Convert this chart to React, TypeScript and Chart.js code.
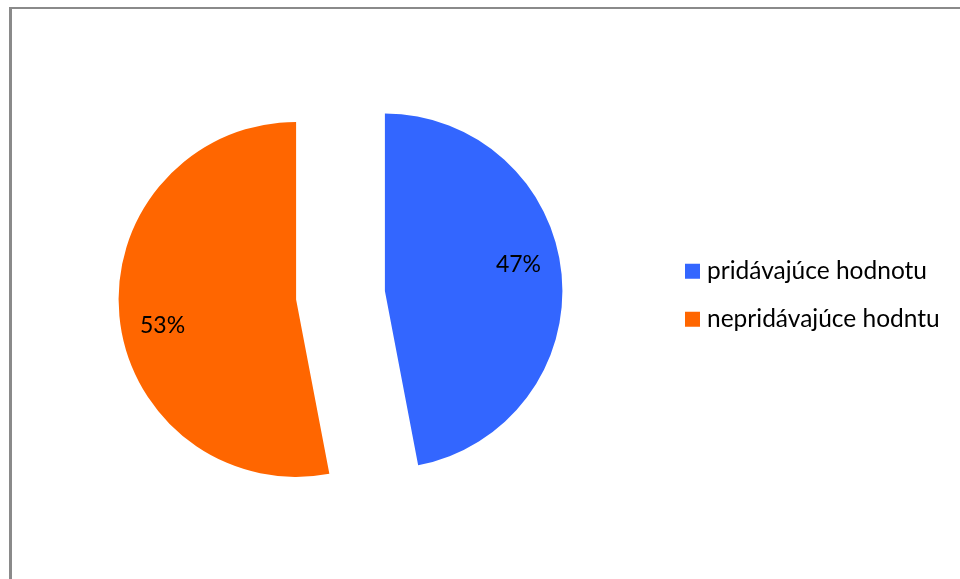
import React, { useEffect, useRef } from 'react';
import { Chart, registerables, DoughnutController } from 'chart.js';

Chart.register(...registerables);

// ---- data ----
const categories: string[] = ['pridávajúce hodnotu', 'nepridávajúce hodntu'];
const values: number[] = [47, 53];
const valueLabels: string[] = ['47%', '53%'];
const colors: string[] = ['#3366FF', '#FF6600'];

// ---- style constants ----
const FONT = 'Lato, "Open Sans", "DejaVu Sans", sans-serif';
const LEGEND_FONT_SIZE = 24.5;
const LEGEND_PAD = 23.5;
const LEGEND_BOX = 4.5;
const LEGEND_BOX_STROKE = 10.5;
const LEGEND_LEFT = 666.75;
const EXPLODE = 44.6;
const LABEL_R = 0.767;
const LABEL_ROT = (5.8 * Math.PI) / 180;

const explodePlugin = {
  id: 'explodeSlices',
  afterUpdate(chart: any) {
    const meta = chart.getDatasetMeta(0);
    meta.data.forEach((arc: any) => {
      const mid = (arc.startAngle + arc.endAngle) / 2;
      arc.x += Math.cos(mid) * EXPLODE;
      arc.y += Math.sin(mid) * EXPLODE;
    });
  },
};

const labelPlugin = {
  id: 'sliceLabels',
  afterDatasetsDraw(chart: any) {
    const ctx = chart.ctx;
    const meta = chart.getDatasetMeta(0);
    ctx.save();
    ctx.font = `23px ${FONT}`;
    ctx.fillStyle = '#000';
    ctx.textAlign = 'center';
    ctx.textBaseline = 'middle';
    meta.data.forEach((arc: any, i: number) => {
      const a = (arc.startAngle + arc.endAngle) / 2 - LABEL_ROT;
      const r = arc.outerRadius * LABEL_R;
      ctx.fillText(valueLabels[i], arc.x + Math.cos(a) * r, arc.y + Math.sin(a) * r);
    });
    ctx.restore();
  },
};

export default function App() {
  const canvasRef = useRef<HTMLCanvasElement | null>(null);

  useEffect(() => {
    const canvas = canvasRef.current;
    if (!canvas) return;
    const baseGen = (DoughnutController as any).overrides.plugins.legend.labels.generateLabels;

    // measure legend text so the legend's left edge lands where it should
    const mctx = document.createElement('canvas').getContext('2d') as CanvasRenderingContext2D;
    mctx.font = `${LEGEND_FONT_SIZE}px ${FONT}`;
    const textW = Math.max(...categories.map((c) => mctx.measureText(c).width));
    const legendW = LEGEND_PAD + LEGEND_BOX + LEGEND_FONT_SIZE / 2 + textW + 10;
    const padRight = Math.max(0, 960 - LEGEND_LEFT - legendW);

    const chart = new Chart(canvas, {
      type: 'pie',
      data: {
        labels: categories,
        datasets: [
          {
            data: values,
            backgroundColor: colors,
            borderWidth: 0,
          },
        ],
      },
      options: {
        responsive: false,
        animation: false,
        devicePixelRatio: 1,
        layout: {
          padding: { left: 14.25, right: padRight, top: 117.7, bottom: 106.3 },
        },
        plugins: {
          tooltip: { enabled: false },
          legend: {
            position: 'right',
            align: 'center',
            labels: {
              boxWidth: LEGEND_BOX,
              boxHeight: LEGEND_BOX,
              padding: LEGEND_PAD,
              color: '#000',
              font: { family: FONT, size: LEGEND_FONT_SIZE },
              generateLabels: (c: any) =>
                baseGen(c).map((it: any) => ({
                  ...it,
                  lineWidth: LEGEND_BOX_STROKE,
                  strokeStyle: it.fillStyle,
                  lineJoin: 'miter',
                })),
            },
          },
        },
      } as any,
      plugins: [explodePlugin, labelPlugin],
    });
    return () => chart.destroy();
  }, []);

  return (
    <div
      style={{
        position: 'fixed',
        left: 0,
        top: 0,
        width: 960,
        height: 579,
        overflow: 'hidden',
        background: '#fff',
      }}
    >
      <div
        style={{
          position: 'absolute',
          left: 9,
          top: 7,
          width: 1200,
          height: 800,
          borderLeft: '3px solid #8a8a8a',
          borderTop: '2px solid #8a8a8a',
          boxSizing: 'border-box',
        }}
      />
      <canvas
        ref={canvasRef}
        width={960}
        height={579}
        style={{ position: 'absolute', left: 0, top: 0, width: 960, height: 579 }}
      />
    </div>
  );
}
